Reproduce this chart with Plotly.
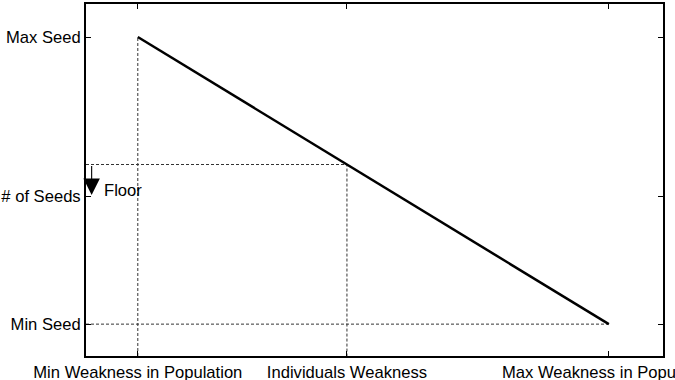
import plotly.graph_objects as go

# Axis categories (positions in normalised units)
x_labels = ["Min Weakness in Population", "Individuals Weakness", "Max Weakness in Population"]
x_vals = [0.0, 0.444, 1.0]
y_labels = ["Min Seed", "# of Seeds", "Max Seed"]
y_vals = [0.0, 0.446, 1.0]

# Main relation: seeds decrease linearly with weakness
line_x = [0.0, 1.0]
line_y = [1.0, 0.0]

# Individual's point and floor
ind_x = 0.444
ind_y = 0.556
floor_y = 0.450

x_range = [-0.110, 1.115]
y_range = [-0.111, 1.115]

FONT = "Liberation Sans, Arial"
FS = 16.6

fig = go.Figure()
dash_style = dict(color="#333333", width=1, dash="3px,2px")

# vertical dashed at min weakness
fig.add_trace(go.Scatter(x=[x_vals[0], x_vals[0]], y=[y_range[0], line_y[0]],
                         mode="lines", line=dash_style, hoverinfo="skip"))
# horizontal dashed at min seed
fig.add_trace(go.Scatter(x=[x_range[0], line_x[1]], y=[y_vals[0], y_vals[0]],
                         mode="lines", line=dash_style, hoverinfo="skip"))
# individual's dashed lines
fig.add_trace(go.Scatter(x=[x_range[0], ind_x, ind_x], y=[ind_y, ind_y, y_range[0]],
                         mode="lines", line=dash_style, hoverinfo="skip"))
# main line
fig.add_trace(go.Scatter(x=line_x, y=line_y, mode="lines",
                         line=dict(color="black", width=2.5), hoverinfo="skip"))

fig.add_annotation(x=-0.098, y=floor_y, ax=-0.098, ay=ind_y, xref="x", yref="y",
                   axref="x", ayref="y", text="", showarrow=True,
                   arrowhead=2, arrowsize=3.0, arrowwidth=1.1, arrowcolor="black")
fig.add_annotation(x=-0.077, y=(324 - 190) / 287, xref="x", yref="y", text="Floor",
                   showarrow=False, xanchor="left",
                   font=dict(family=FONT, size=FS, color="black"))

axis_common = dict(showline=True, mirror="ticks", linecolor="black", linewidth=2,
                   ticks="inside", ticklen=5, tickcolor="black", tickwidth=1,
                   showgrid=False, zeroline=False, ticklabeloverflow="allow",
                   automargin=False,
                   tickfont=dict(family=FONT, size=FS, color="black"))

fig.update_xaxes(range=x_range, tickmode="array", tickvals=x_vals, ticktext=x_labels,
                 **axis_common)
fig.update_yaxes(range=y_range, tickmode="array", tickvals=y_vals, ticktext=y_labels,
                 **axis_common)

fig.update_layout(width=675, height=380, margin=dict(l=86, r=12, t=4, b=24),
                  plot_bgcolor="white", paper_bgcolor="white", showlegend=False)

fig.write_html("out.html")
